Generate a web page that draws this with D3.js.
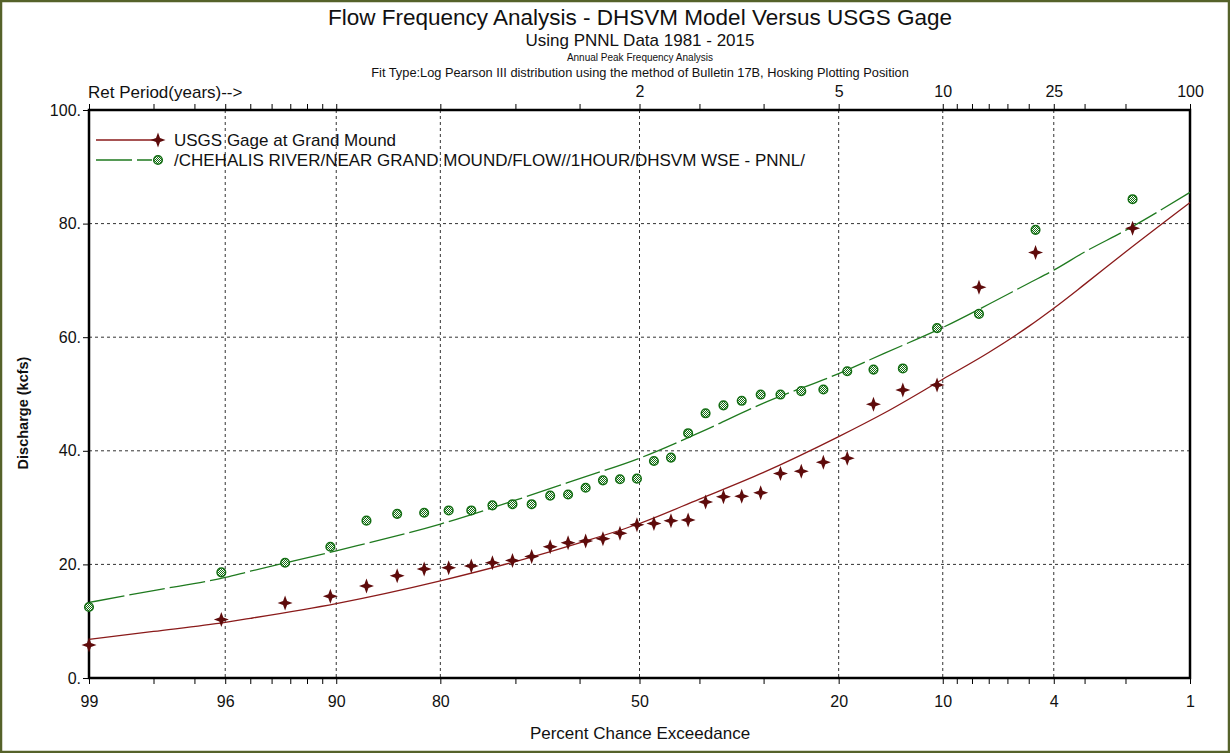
<!DOCTYPE html>
<html lang="en">
<head>
<meta charset="utf-8">
<title>Flow Frequency Analysis</title>
<script src="https://d3js.org/d3.v7.min.js"></script>
<style>
  body { margin: 0; background: #fff; }
  svg text { font-family: "Liberation Sans", Arial, sans-serif; fill: #111; }
  .axis path { display: none; }
  .axis line { stroke: #000; }
  .axis text { font-size: 16px; }
  .grid line { stroke: #333; stroke-dasharray: 3,3; }
</style>
</head>
<body>
<script>
// plotting positions (Hosking), percent chance exceedance
const plotPos = [1.86, 4.71, 7.57, 10.43, 13.29, 16.14, 19.00, 21.86, 24.71, 27.57, 30.43, 33.29,
  36.14, 39.00, 41.86, 44.71, 47.57, 50.43, 53.29, 56.14, 59.00, 61.86, 64.71, 67.57, 70.43,
  73.29, 76.14, 79.00, 81.86, 84.71, 87.57, 90.43, 93.29, 96.14, 99.00];

// annual peaks, kcfs (sorted)
const usgsPeaks = [79.2, 74.9, 68.8, 51.6, 50.7, 48.2, 38.7, 38.0, 36.4, 36.0, 32.6, 32.0, 31.9,
  31.0, 27.8, 27.7, 27.2, 27.0, 25.5, 24.5, 24.1, 23.8, 23.1, 21.4, 20.7, 20.3, 19.7, 19.4, 19.2,
  18.0, 16.2, 14.4, 13.2, 10.3, 5.8];
const dhsvmPeaks = [84.3, 78.9, 64.1, 61.6, 54.5, 54.3, 54.0, 50.8, 50.5, 49.9, 49.9, 48.8, 48.0,
  46.6, 43.1, 38.8, 38.2, 35.1, 35.0, 34.8, 33.5, 32.3, 32.1, 30.6, 30.6, 30.4, 29.5, 29.5, 29.1,
  28.9, 27.7, 23.1, 20.3, 18.6, 12.5];

// fitted LP3 curves
const curvePct = [99, 98, 96, 95, 90, 80, 70, 60, 50, 40, 30, 20, 15, 10, 7, 5, 4, 3, 2, 1];
const usgsCurve = [6.8, 8.2, 9.8, 10.5, 13.1, 17.1, 20.5, 23.8, 27.2, 31.5, 36.2, 42.5, 46.7,
  52.6, 57.3, 61.9, 65.1, 69.3, 75.0, 83.7];
const dhsvmCurve = [13.3, 15.4, 17.7, 18.8, 22.4, 27.1, 31.3, 35.1, 38.7, 43.2, 48.4, 53.6, 57.2,
  61.7, 65.8, 69.5, 71.8, 75.0, 78.8, 85.5];

// axis ticks
const pctTicks = [99, 98, 97, 96, 95, 94, 93, 92, 91, 90, 80, 70, 60, 50, 40, 30, 20, 10, 9, 8, 7, 6, 5, 4, 3, 2, 1];
const pctLabels = [99, 96, 90, 80, 50, 20, 10, 4, 1];
const retPct = [50, 20, 10, 4, 1];
const retLabels = ["2", "5", "10", "25", "100"];
const yTicks = [0, 20, 40, 60, 80, 100];

const w = 1230, h = 753;
const mLeft = 89, mRight = 1190, mTop = 110, mBottom = 678;

// inverse normal CDF (Acklam)
function qnorm(p) {
  const a = [-39.69683028665376, 220.9460984245205, -275.9285104469687, 138.357751867269, -30.66479806614716, 2.506628277459239];
  const b = [-54.47609879822406, 161.5858368580409, -155.6989798598866, 66.80131188771972, -13.28068155288572];
  const c = [-0.007784894002430293, -0.3223964580411365, -2.400758277161838, -2.549732539343734, 4.374664141464968, 2.938163982698783];
  const d = [0.007784695709041462, 0.3224671290700398, 2.445134137142996, 3.754408661907416];
  const pl = 0.02425;
  let q, r;
  if (p < pl) {
    q = Math.sqrt(-2 * Math.log(p));
    return (((((c[0]*q+c[1])*q+c[2])*q+c[3])*q+c[4])*q+c[5]) / ((((d[0]*q+d[1])*q+d[2])*q+d[3])*q+1);
  } else if (p <= 1 - pl) {
    q = p - 0.5; r = q * q;
    return (((((a[0]*r+a[1])*r+a[2])*r+a[3])*r+a[4])*r+a[5])*q / (((((b[0]*r+b[1])*r+b[2])*r+b[3])*r+b[4])*r+1);
  }
  q = Math.sqrt(-2 * Math.log(1 - p));
  return -(((((c[0]*q+c[1])*q+c[2])*q+c[3])*q+c[4])*q+c[5]) / ((((d[0]*q+d[1])*q+d[2])*q+d[3])*q+1);
}
const zOf = pct => qnorm(pct / 100);

const xScale = d3.scaleLinear().domain([zOf(99), zOf(1)]).range([mLeft, mRight]);
const yScale = d3.scaleLinear().domain([0, 100]).range([mBottom, mTop]);
const px = pct => xScale(zOf(pct));

const svg = d3.select("body").append("svg").attr("width", w).attr("height", h);

svg.append("rect").attr("x", 1).attr("y", 1).attr("width", w - 2).attr("height", h - 2)
  .attr("fill", "#fff").attr("stroke", "#55622a").attr("stroke-width", 2.5);

// pattern for the hatched circle marker
const defs = svg.append("defs");
const pat = defs.append("pattern").attr("id", "chk").attr("width", 2).attr("height", 2)
  .attr("patternUnits", "userSpaceOnUse");
pat.append("rect").attr("width", 2).attr("height", 2).attr("fill", "#fff");
pat.append("rect").attr("width", 1).attr("height", 1).attr("fill", "#146e14");
pat.append("rect").attr("x", 1).attr("y", 1).attr("width", 1).attr("height", 1).attr("fill", "#146e14");

// titles
const titles = [
  ["Flow Frequency Analysis - DHSVM Model Versus USGS Gage", 22.5, 25],
  ["Using PNNL Data 1981 - 2015", 17, 46],
  ["Annual Peak Frequency Analysis", 10, 61],
  ["Fit Type:Log Pearson III distribution using the method of Bulletin 17B, Hosking Plotting Position", 12.8, 76.5]
];
titles.forEach(t => {
  svg.append("text").attr("x", 640).attr("y", t[2]).attr("text-anchor", "middle")
    .style("font-size", t[1] + "px").text(t[0]);
});

// grid
const grid = svg.append("g").attr("class", "grid");
grid.selectAll(".vg").data(pctLabels.filter(p => p !== 99 && p !== 1)).join("line")
  .attr("x1", d => px(d)).attr("x2", d => px(d)).attr("y1", mTop).attr("y2", mBottom);
grid.selectAll(".hg").data(yTicks.filter(v => v > 0 && v < 100)).join("line")
  .attr("x1", mLeft).attr("x2", mRight).attr("y1", d => yScale(d)).attr("y2", d => yScale(d));

// axes
const bottomAxis = d3.axisBottom(xScale).tickValues(pctTicks.map(zOf)).tickSize(6).tickPadding(12)
  .tickFormat((z, i) => pctLabels.includes(pctTicks[i]) ? String(pctTicks[i]) : "");
svg.append("g").attr("class", "axis").attr("transform", `translate(0,${mBottom})`).call(bottomAxis);

const topAxis = d3.axisTop(xScale).tickValues(pctTicks.map(zOf)).tickSize(6).tickPadding(7)
  .tickFormat((z, i) => { const k = retPct.indexOf(pctTicks[i]); return k >= 0 ? retLabels[k] : ""; });
svg.append("g").attr("class", "axis").attr("transform", `translate(0,${mTop})`).call(topAxis);

const leftAxis = d3.axisLeft(yScale).tickValues(yTicks).tickSize(6).tickPadding(2)
  .tickFormat(d => d + ".");
svg.append("g").attr("class", "axis").attr("transform", `translate(${mLeft},0)`).call(leftAxis);

svg.append("text").attr("x", 88).attr("y", 98).style("font-size", "17px").text("Ret Period(years)-->");

// plot frame
svg.append("rect").attr("x", mLeft).attr("y", mTop).attr("width", mRight - mLeft).attr("height", mBottom - mTop)
  .attr("fill", "none").attr("stroke", "#000").attr("stroke-width", 2.5);

svg.append("text").attr("x", 640).attr("y", 739).attr("text-anchor", "middle")
  .style("font-size", "17px").text("Percent Chance Exceedance");
svg.append("text").attr("transform", "translate(28,413) rotate(-90)").attr("text-anchor", "middle")
  .style("font-size", "14.5px").style("font-weight", "bold").text("Discharge (kcfs)");

// curves
const line = d3.line().x(d => px(d[0])).y(d => yScale(d[1])).curve(d3.curveMonotoneX);
svg.append("path").datum(curvePct.map((p, i) => [p, usgsCurve[i]]))
  .attr("d", line).attr("fill", "none").attr("stroke", "#8a1a1a").attr("stroke-width", 1.3);
svg.append("path").datum(curvePct.map((p, i) => [p, dhsvmCurve[i]]))
  .attr("d", line).attr("fill", "none").attr("stroke", "#1f7a1f").attr("stroke-width", 1.3)
  .attr("stroke-dasharray", "36,5");

// markers
const star = "M0,-7.5L2,-2L7.5,0L2,2L0,7.5L-2,2L-7.5,0L-2,-2Z";
function drawStar(g, x, y) {
  g.append("path").attr("d", star).attr("transform", `translate(${x},${y})`).attr("fill", "#5e0b0b");
}
function drawCircle(g, x, y) {
  g.append("circle").attr("cx", x).attr("cy", y).attr("r", 4.3)
    .attr("fill", "url(#chk)").attr("stroke", "#146e14").attr("stroke-width", 1.5);
}
const pts = svg.append("g");
dhsvmPeaks.forEach((v, i) => drawCircle(pts, px(plotPos[i]), yScale(v)));
usgsPeaks.forEach((v, i) => drawStar(pts, px(plotPos[i]), yScale(v)));

// legend
const lg = svg.append("g");
lg.append("line").attr("x1", 96).attr("x2", 155).attr("y1", 140).attr("y2", 140)
  .attr("stroke", "#8a1a1a").attr("stroke-width", 1.3);
drawStar(lg, 158, 140);
lg.append("text").attr("x", 174).attr("y", 146).style("font-size", "17px").text("USGS Gage at Grand Mound");
lg.append("line").attr("x1", 96).attr("x2", 152).attr("y1", 160).attr("y2", 160)
  .attr("stroke", "#1f7a1f").attr("stroke-width", 1.3).attr("stroke-dasharray", "36,5");
drawCircle(lg, 158, 160);
lg.append("text").attr("x", 174).attr("y", 166).style("font-size", "17px")
  .text("/CHEHALIS RIVER/NEAR GRAND MOUND/FLOW//1HOUR/DHSVM WSE - PNNL/");
</script>
</body>
</html>
